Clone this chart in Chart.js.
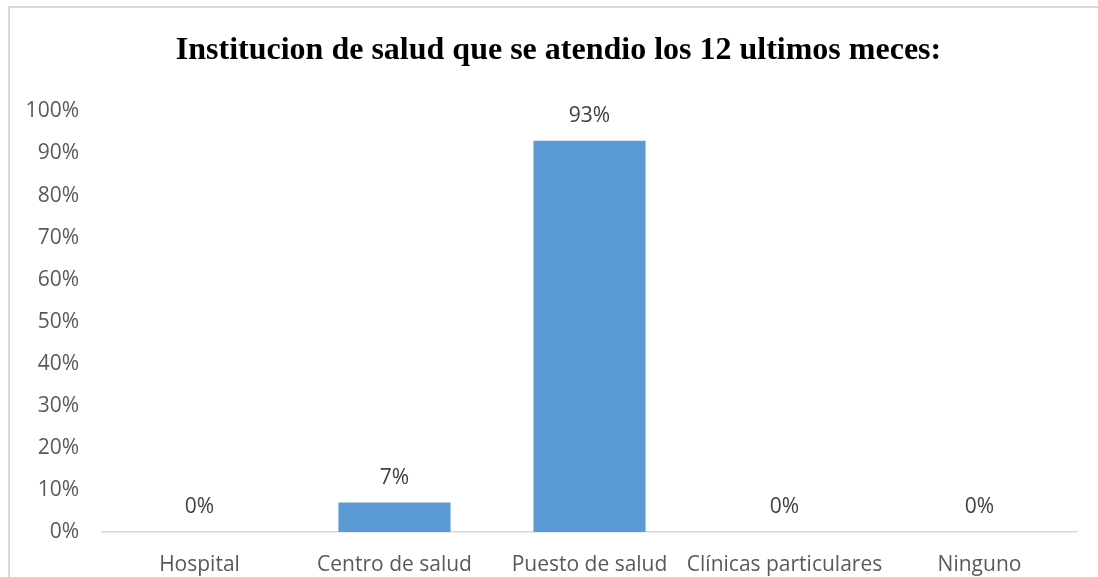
<!DOCTYPE html>
<html>
<head>
<meta charset="utf-8">
<script src="https://cdn.jsdelivr.net/npm/chart.js@4/dist/chart.umd.min.js"></script>
<style>
  html, body { margin: 0; padding: 0; background: #fff; }
  #wrap { width: 1098px; height: 577px; position: relative; }
</style>
</head>
<body>
<div id="wrap"><canvas id="chart" width="1098" height="577"></canvas></div>
<script>
const categories = ['Hospital', 'Centro de salud', 'Puesto de salud', 'Clínicas particulares', 'Ninguno'];
const porcentajes = [0, 7, 93, 0, 0];
const yTicks = [0, 10, 20, 30, 40, 50, 60, 70, 80, 90, 100];

const labelFont = "'Open Sans', sans-serif";

// thin grey frame along the top and left edge
const frame = {
  id: 'frame',
  beforeDraw(chart) {
    const c = chart.ctx;
    c.save();
    c.strokeStyle = '#d9d9d9';
    c.lineWidth = 2;
    c.beginPath();
    c.moveTo(9, chart.height);
    c.lineTo(9, 7);
    c.lineTo(chart.width, 7);
    c.stroke();
    c.restore();
  }
};

// centre the title over the whole frame, not only up to the plot's right edge
const titleShift = {
  id: 'titleShift',
  afterLayout(chart) {
    const t = chart.titleBlock;
    t.left += 20;
    t.right += 20;
  }
};

// value labels above each bar
const valueLabels = {
  id: 'valueLabels',
  afterDatasetsDraw(chart) {
    const c = chart.ctx;
    const meta = chart.getDatasetMeta(0);
    c.save();
    c.fillStyle = '#404040';
    c.font = "21px " + labelFont;
    c.textAlign = 'center';
    c.textBaseline = 'middle';
    meta.data.forEach((bar, i) => {
      c.fillText(porcentajes[i] + '%', bar.x, bar.y - 25);
    });
    c.restore();
  }
};

const ctx = document.getElementById('chart').getContext('2d');
const myChart = new Chart(ctx, {
  type: 'bar',
  data: {
    labels: categories,
    datasets: [{
      data: porcentajes,
      backgroundColor: '#5b9bd5',
      barPercentage: 0.575,
      categoryPercentage: 1
    }]
  },
  options: {
    responsive: false,
    animation: false,
    layout: { padding: { left: 0, right: 21, top: 0, bottom: 0 } },
    plugins: {
      legend: { display: false },
      tooltip: { enabled: false },
      title: {
        display: true,
        text: 'Institucion de salud que se atendio los 12 ultimos meces:',
        color: '#000',
        font: { family: "'Liberation Serif', 'Times New Roman', serif", size: 32, weight: 'bold' },
        lineHeight: 1.2,
        padding: { top: 32, bottom: 41 }
      }
    },
    scales: {
      x: {
        grid: { display: false, drawTicks: false },
        border: { display: true, color: '#d9d9d9', width: 1.5 },
        ticks: {
          color: '#595959',
          font: { family: labelFont, size: 21 },
          padding: 20,
          autoSkip: false,
          maxRotation: 0
        },
        afterFit(scale) { scale.height = 45; }
      },
      y: {
        min: 0,
        max: 100,
        grid: { display: false, drawTicks: false },
        border: { display: false },
        afterBuildTicks(scale) { scale.ticks = yTicks.map(v => ({ value: v })); },
        ticks: {
          color: '#595959',
          font: { family: labelFont, size: 21 },
          padding: 23,
          callback: v => v + '%'
        },
        afterFit(scale) { scale.width = 102; }
      }
    }
  },
  plugins: [frame, titleShift, valueLabels]
});
</script>
</body>
</html>
